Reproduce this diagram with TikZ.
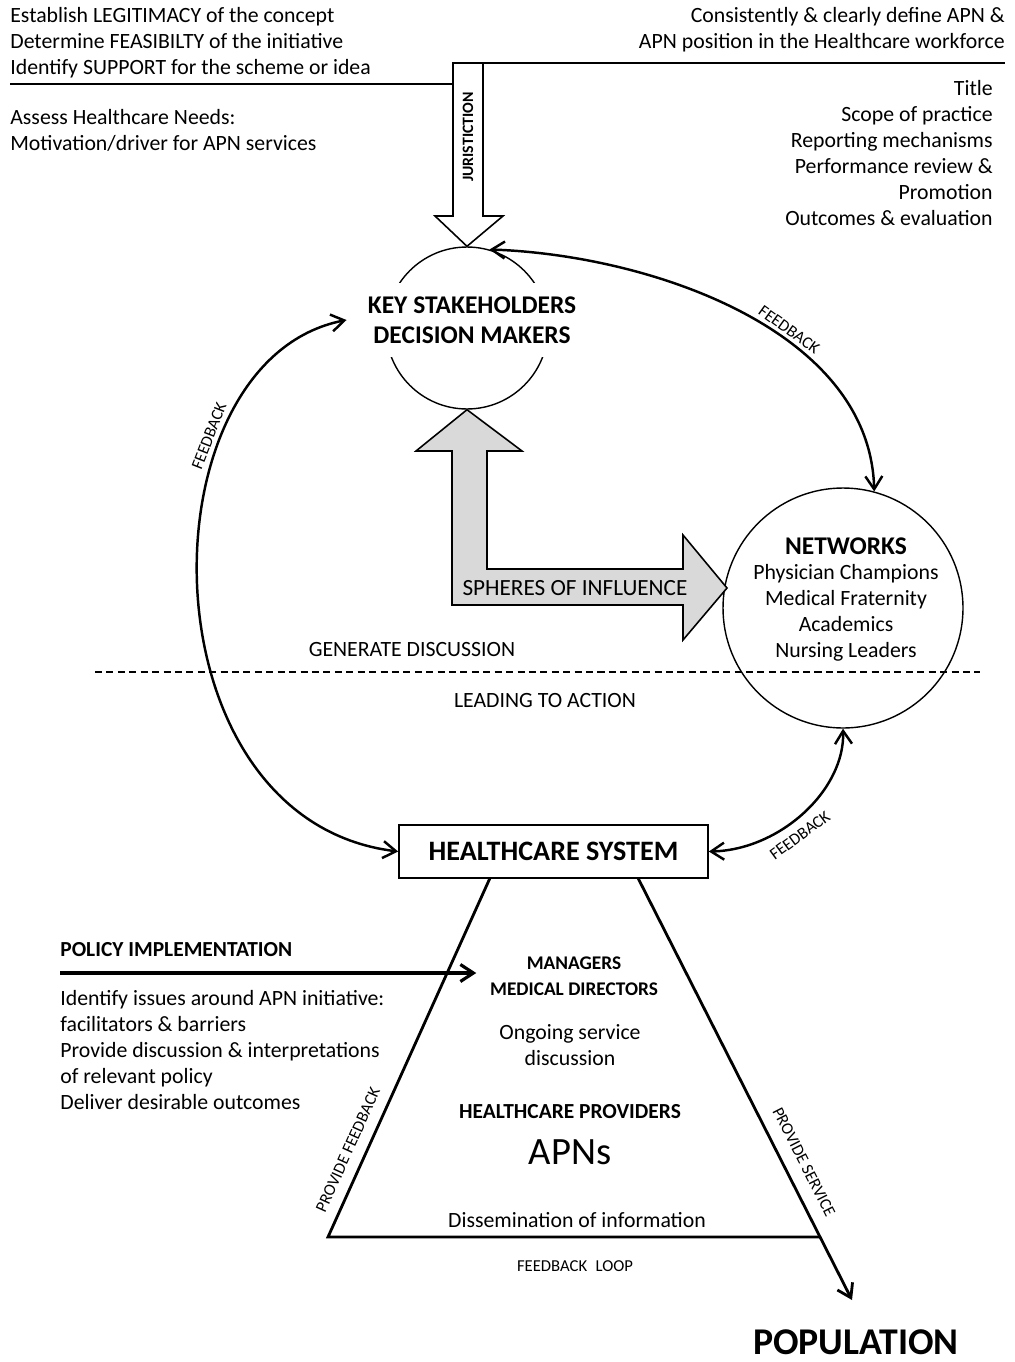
\documentclass[tikz,border=0pt]{standalone}
\usepackage{fontspec}
\setmainfont{Carlito}
\usetikzlibrary{arrows.meta,shapes.geometric}
\tikzset{
  every node/.style={inner sep=0pt},
  plain/.style={font=\fontsize{12.4}{14.74}\selectfont},
  caps/.style={font=\bfseries\fontsize{12.2}{14.74}\selectfont},
  tag/.style={font=\fontsize{9.5}{11}\selectfont},
  barb/.style={-{Straight Barb[length=2.6mm,width=3.4mm]}},
  fbk/.style={line width=1.4pt,{Straight Barb[length=2.6mm,width=3.4mm]}-{Straight Barb[length=2.6mm,width=3.4mm]}}
}
\begin{document}
\begin{tikzpicture}[x=0.02cm,y=-0.02cm]
  \useasboundingbox (0,0) rectangle (1014,1362);

  \node[plain,anchor=west,align=left] (aims) at (10,43) {Establish LEGITIMACY of the concept\\Determine FEASIBILTY of the initiative\\Identify SUPPORT for the scheme or idea};
  \node[plain,anchor=west,align=left] (needs) at (10,130) {Assess Healthcare Needs:\\Motivation/driver for APN services};
  \node[plain,anchor=east,align=right] (define) at (1005,30) {Consistently \& clearly define APN \&\\APN position in the Healthcare workforce};
  \node[plain,anchor=east,align=right] (role) at (993,153) {Title\\Scope of practice\\Reporting mechanisms\\Performance review \&\\Promotion\\Outcomes \& evaluation};

  \node[draw,circle,line width=0.8pt,minimum size=3.24cm] (key) at (467,328) {};
  \node[fill=white,align=center,inner xsep=2pt,inner ysep=8pt,font=\bfseries\fontsize{14.5}{17}\selectfont] (keytxt) at (472,320) {KEY STAKEHOLDERS\\DECISION MAKERS};

  \draw[line width=1.7pt] (10,84) -- (453,84);
  \draw[line width=1.7pt] (483,63) -- (1005,63);
  \draw[line width=0.9pt,fill=white] (453,63) -- (483,63) -- (483,216) -- (503,216) -- (key.north) -- (435,216) -- (453,216) -- cycle;
  \node[rotate=90,font=\bfseries\fontsize{9}{11}\selectfont] (jur) at (468,137) {JURISTICTION};

  \node[draw,circle,line width=0.8pt,minimum size=4.8cm] (net) at (843,608) {};
  \node[font=\bfseries\fontsize{14.5}{17}\selectfont] (netttl) at (846,546) {NETWORKS};
  \node[plain,align=center] (netlist) at (846,613) {Physician Champions\\Medical Fraternity\\Academics\\Nursing Leaders};

  \draw[line width=0.9pt,fill=black!15] (key.south) -- (522,451) -- (487,451) -- (487,569) -- (683,569) -- (683,535) -- (727,588) -- (683,640) -- (683,605) -- (452,605) -- (452,451) -- (416,451) -- cycle;
  \node[font=\fontsize{13.2}{15}\selectfont] (sphere) at (575,588) {SPHERES OF INFLUENCE};

  \draw[dash pattern=on 4pt off 2.5pt,line width=0.8pt] (95,672) -- (980,672);
  \node[plain] (gen) at (412,650) {GENERATE DISCUSSION};
  \node[plain] (lead) at (545,700) {LEADING TO ACTION};

  \node[draw,line width=1pt,minimum width=6.18cm,minimum height=1.06cm,font=\bfseries\fontsize{16}{19}\selectfont] (hcs) at (553.5,851.5) {HEALTHCARE SYSTEM};

  \coordinate (keyin) at ([xshift=-0.35cm]keytxt.west);
  \draw[fbk] (key.74) .. controls (650,255) and (870,330) .. (net.75) node[pos=0.6,sloped,above=2pt,tag] {FEEDBACK};
  \draw[fbk] (keyin) .. controls (140,360) and (140,820) .. (hcs.west) node[pos=0.29,sloped,above=3pt,tag] {FEEDBACK};
  \draw[fbk] (hcs.east) .. controls (780,850) and (845,790) .. (net.south) node[pos=0.42,sloped,below=5pt,tag] {FEEDBACK};

  \node[font=\bfseries\fontsize{21.5}{25}\selectfont] (pop) at (856,1342) {POPULATION};
  \coordinate (popin) at (852,1300);
  \draw[line width=1.6pt] (490,878) -- (328,1237) -- (820,1237);
  \draw[line width=1.6pt,barb] (638,878) -- (popin);
  \node[tag,rotate=65.7] (pfb) at (348,1150) {PROVIDE FEEDBACK};
  \node[tag,rotate=-63.1] (psv) at (804,1162) {PROVIDE SERVICE};

  \node[caps,anchor=west] (pol) at (60,950) {POLICY IMPLEMENTATION};
  \node[align=center,font=\bfseries\fontsize{11}{14.74}\selectfont] (mgr) at (574,976) {MANAGERS\\MEDICAL DIRECTORS};
  \coordinate (polout) at ([xshift=-0.27cm]mgr.west);
  \draw[line width=1.8pt,barb] (60,973) -- (polout |- 0,973);
  \node[plain,anchor=west,align=left] (issues) at (60,1050) {Identify issues around APN initiative:\\facilitators \& barriers\\Provide discussion \& interpretations\\of relevant policy\\Deliver desirable outcomes};

  \node[plain,align=center] (ongo) at (570,1045) {Ongoing service\\discussion};
  \node[caps] (prov) at (570,1112) {HEALTHCARE PROVIDERS};
  \node[font=\fontsize{22}{26}\selectfont] (apn) at (570,1152) {APNs};
  \node[plain] (diss) at (577,1220) {Dissemination of information};
  \node[tag] (loop) at (575,1266) {FEEDBACK\enspace LOOP};
\end{tikzpicture}
\end{document}
